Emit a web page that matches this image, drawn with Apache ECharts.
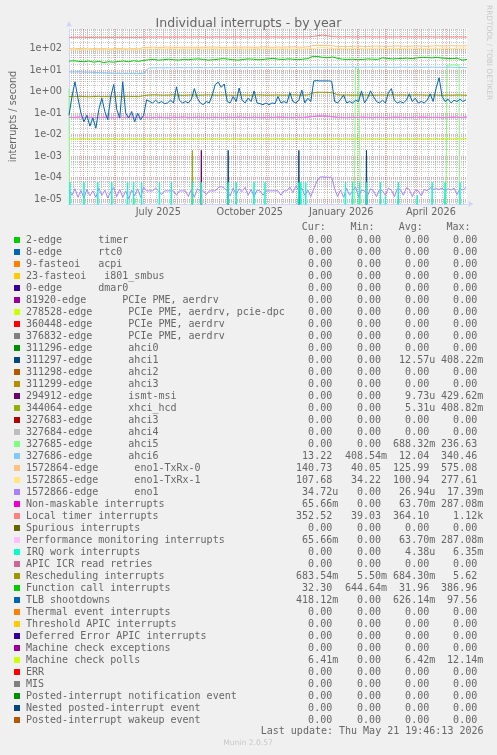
<!DOCTYPE html>
<html>
<head>
<meta charset="utf-8">
<script src="https://cdn.jsdelivr.net/npm/echarts@6/dist/echarts.min.js"></script>
<style>
html,body{margin:0;padding:0;background:#F0F0F0;}
#chart{width:497px;height:755px;}
</style>
</head>
<body>
<div id="chart"></div>
<script>
// ---------------- time base ----------------
const startTime = Date.UTC(2025, 3, 16, 19, 46, 13);   // 400 days before last update
const endTime   = Date.UTC(2026, 4, 21, 19, 46, 13);
const DAY = 86400000;
const smoothStepDays = 5;   // sample spacing of the smooth series (81 samples)
const noisyStepDays = 3;    // sample spacing of the noisy series (134 samples)

// ---------------- axis ticks ----------------
const yTickValues = [1e-5, 1e-4, 1e-3, 1e-2, 1e-1, 1, 10, 100];
const yTickLabels = ['1e-05', '1e-04', '1e-03', '1e-02', '1e-01', '1e+00', '1e+01', '1e+02'];
const yMin = 5.85e-6, yMax = 842;
const xTickLabelDates = [Date.UTC(2025, 6, 15, 12), Date.UTC(2025, 9, 15, 12), Date.UTC(2026, 0, 15, 12), Date.UTC(2026, 3, 15, 12)];
const xTickLabels = ['July 2025', 'October 2025', 'January 2026', 'April 2026'];

// ---------------- smooth series (every 5 days) ----------------
const localTimer = [345,342,348,345,340,344,346,343,345,341,347,344,342,345,343,350,
  355,352,358,354,350,356,353,357,352,355,360,354,351,356,358,
  355,352,357,360,356,353,358,362,357,355,360,358,354,359,362,358,360,365,
  380,410,440,405,375,
  362,358,365,360,356,362,368,360,357,363,359,355,361,366,360,357,362,358,364,360,356,361,358,355,360,357,352];
const enoTxRx0 = [102,100,104,101,99,103,100,102,98,101,104,100,99,102,100,116,
  118,120,117,119,122,118,116,120,119,117,121,118,120,123,119,117,120,118,122,119,121,118,120,124,121,118,122,120,123,125,121,119,124,
  140,145,142,144,138,
  128,130,127,132,135,130,128,133,136,131,129,134,137,132,130,135,138,133,131,136,139,134,137,140,136,138,141];
const enoTxRx1 = [90,92,89,91,93,90,88,92,91,89,93,90,92,89,91,98,
  100,98,101,99,102,100,97,101,99,100,103,98,100,102,99,101,100,98,102,100,99,101,103,100,98,101,99,102,100,97,101,99,102,
  104,110,115,108,103,
  103,105,102,104,106,103,101,105,107,104,102,106,104,103,105,108,104,102,106,105,103,107,105,104,106,108,108];
const functionCall = [27,28,26,25,27,24,26,23,25,24,26,27,25,28,26,29,
  31,32,30,31,33,31,30,32,31,33,34,32,30,31,33,35,33,31,30,32,34,33,31,32,34,36,33,32,34,33,31,33,35,
  45,44,40,38,42,
  36,33,32,33,31,32,34,33,32,38,36,34,35,36,37,35,38,40,39,38,40,37,36,35,37,30,32];
const ahci6 = [8.5,8.4,8.6,8.3,8.2,8.0,7.8,7.6,7.5,7.3,7.2,7.1,7.0,7.1,7.0,7.2,
  12.8,13.0,13.1,12.9,13.2,13.0,13.3,13.1,13.2,13.0,13.4,13.2,13.1,13.3,13.5,13.2,13.4,13.3,13.6,13.4,13.5,13.3,13.6,13.5,13.4,13.7,13.5,13.6,13.8,13.5,13.7,13.6,13.8,
  13.9,14.0,13.8,14.1,13.9,
  13.8,14.0,13.9,14.1,14.0,13.8,14.2,14.0,13.9,14.1,14.0,13.8,14.0,14.2,13.9,14.1,14.0,13.8,14.1,13.9,14.0,13.8,13.9,14.0,13.6,13.4,13.2];
const rescheduling = [0.60,0.59,0.61,0.60,0.58,0.60,0.61,0.59,0.60,0.58,0.60,0.59,0.61,0.60,0.59,0.66,
  0.70,0.72,0.71,0.69,0.70,0.72,0.70,0.68,0.70,0.71,0.69,0.70,0.72,0.70,0.69,0.71,0.70,0.68,0.70,0.71,0.69,0.70,0.72,0.70,0.69,0.70,0.71,0.69,0.70,0.72,0.70,0.69,0.71,
  0.88,0.95,0.94,0.93,0.90,
  0.72,0.70,0.71,0.69,0.70,0.72,0.70,0.68,0.70,0.71,0.69,0.72,0.70,0.71,0.69,0.70,0.72,0.70,0.69,0.71,0.70,0.68,0.70,0.69,0.71,0.70,0.68];
const nonMaskable = [0.064,0.063,0.065,0.062,0.064,0.063,0.062,0.064,0.063,0.062,0.064,0.063,0.065,0.062,0.063,0.064,
  0.063,0.062,0.064,0.063,0.062,0.064,0.063,0.065,0.062,0.063,0.064,0.063,0.062,0.064,0.063,0.062,0.064,0.063,0.065,0.063,0.062,0.064,0.063,0.062,0.064,0.063,0.065,0.064,0.063,0.062,0.064,0.063,0.066,
  0.070,0.074,0.073,0.072,0.068,
  0.064,0.063,0.062,0.064,0.063,0.065,0.063,0.062,0.064,0.063,0.062,0.064,0.065,0.063,0.062,0.064,0.063,0.065,0.064,0.063,0.064,0.062,0.063,0.065,0.064,0.063,0.066];
const perfMonitoring = nonMaskable.slice();   // identical figures in the legend
const machineCheckPolls = [
  0.00642,0.00642,0.00641,0.00642,0.00643,0.00642,0.00642,0.00641,0.00642,0.00642,
  0.00643,0.00642,0.00642,0.00641,0.00642,0.00642,0.00643,0.00642,0.00641,0.00642,
  0.00642,0.00642,0.00641,0.00642,0.00643,0.00642,0.00642,0.00641,0.00642,0.00642,
  0.00643,0.00642,0.00642,0.00641,0.00642,0.00642,0.00643,0.00642,0.00641,0.00642,
  0.00642,0.00642,0.00641,0.00642,0.00643,0.00642,0.00642,0.00641,0.00642,0.00642,
  0.00643,0.00642,0.00642,0.00641,0.00642,0.00642,0.00643,0.00642,0.00641,0.00642,
  0.00642,0.00642,0.00641,0.00642,0.00643,0.00642,0.00642,0.00641,0.00642,0.00642,
  0.00643,0.00642,0.00642,0.00641,0.00642,0.00642,0.00643,0.00642,0.00641,0.00642,
  0.00641];

// ---------------- noisy series (every 3 days) ----------------
const tlbShootdowns = [0.08,0.6,2.9,0.5,0.1,0.04,0.08,0.025,0.06,0.02,
  0.15,0.5,0.12,0.05,0.6,2.2,0.15,0.06,2.9,0.1,
  0.06,0.12,0.04,0.1,0.05,0.08,0.42,0.35,0.3,0.4,
  0.3,0.35,0.28,0.3,0.4,0.3,1.7,0.4,0.3,0.35,
  0.3,0.45,1.4,0.5,0.3,0.25,0.35,0.3,0.7,2.2,
  2.8,1.6,2.3,0.35,0.3,0.6,0.35,1.5,0.4,0.3,
  0.5,0.35,1.1,0.3,0.28,0.25,0.3,0.25,0.3,0.28,
  0.6,0.3,0.35,0.3,0.9,0.35,0.3,0.4,1.2,0.3,
  0.5,0.35,3.2,3.3,3.2,3.2,3.2,3.2,3.1,0.35,
  0.3,0.45,0.7,0.3,0.35,0.3,0.4,0.35,1.1,0.3,
  0.5,1.1,0.6,0.35,0.3,0.4,0.3,0.9,1.4,0.4,
  0.3,0.35,0.3,0.4,0.8,0.35,0.5,0.3,0.35,0.3,
  0.4,0.8,0.35,1.5,4.5,0.6,0.35,0.45,0.3,0.4,
  0.35,0.45,0.35,0.42];
const eno1 = [2.6e-5,1.5e-5,3.0e-5,1.2e-5,2.5e-5,1.1e-5,2.8e-5,1.4e-5,2.4e-5,1.2e-5,
  3.2e-5,1.5e-5,2.6e-5,1.1e-5,2.2e-5,3.4e-5,1.3e-5,2.8e-5,1.2e-5,2.4e-5,
  1.0e-5,2.6e-5,1.4e-5,3.0e-5,1.2e-5,3.6e-5,2.4e-5,2.4e-5,2.4e-5,3.2e-5,
  2.4e-5,1.6e-5,2.4e-5,2.4e-5,2.4e-5,2.4e-5,1.5e-5,2.4e-5,2.4e-5,2.4e-5,
  1.3e-5,2.8e-5,1.2e-5,3.0e-5,2.4e-5,2.4e-5,1.6e-5,2.4e-5,2.4e-5,2.4e-5,
  3.4e-5,3.8e-5,3.2e-5,2.4e-5,1.4e-5,3.2e-5,1.6e-5,3.0e-5,2.2e-5,3.5e-5,
  1.5e-5,2.8e-5,1.3e-5,2.6e-5,2.4e-5,1.5e-5,2.4e-5,2.4e-5,2.4e-5,2.4e-5,
  2.4e-5,1.5e-5,2.4e-5,2.4e-5,3.6e-5,2.0e-5,4.0e-5,2.5e-5,3.2e-5,1.5e-5,
  2.6e-5,1.3e-5,3.0e-5,6.5e-5,1.05e-4,1.07e-4,1.05e-4,1.03e-4,1.03e-4,3.0e-5,
  1.3e-5,2.6e-5,1.2e-5,3.2e-5,1.5e-5,2.4e-5,3.6e-5,1.3e-5,2.6e-5,2.4e-5,
  1.4e-5,3.0e-5,2.4e-5,1.3e-5,2.8e-5,2.4e-5,1.5e-5,3.2e-5,2.6e-5,1.3e-5,
  3.0e-5,2.8e-5,1.5e-5,3.3e-5,2.8e-5,1.3e-5,2.6e-5,2.4e-5,1.4e-5,2.8e-5,
  2.4e-5,3.4e-5,2.8e-5,3.0e-5,2.8e-5,3.2e-5,2.4e-5,3.0e-5,2.6e-5,3.2e-5,
  1.6e-5,3.0e-5,2.6e-5,3.5e-5];

// ---------------- sparse daily series: [day, value], 0 on every other day ----------------
const irqWork = [[1,6e-5],[15,6e-5],[29,6e-5],[43,6e-5],[59,6e-5],[65,6e-5],[73,6e-5],[91,6e-5],[103,6e-5],
  [124,6e-5],[133,6e-5],[160,6e-5],[168,6e-5],[186,6e-5],[197,6e-5],[231,6e-5],[233,6e-5],[238,6e-5],
  [278,6e-5],[285,6e-5],[292,6e-5],[299,6e-5],[313,6e-5],[318,1.3e-5],[331,6e-5],[350,1.5e-5],
  [365,6e-5],[378,6e-5],[393,6e-5]];
const ahci5 = [[0,1.4],[15,1.2e-5],[43,1.2e-5],[66,1.1e-5],
  [288,13.6],[289,13.6],[290,13.7],[291,13.6],[292,13.6],[293,13.5],
  [380,17.2],[381,17.4],[382,17.5],[383,17.5],[384,17.6],[385,17.5],[386,17.5],[387,17.4],[388,17.5],
  [389,17.6],[390,17.5],[391,17.4],[392,17.3]];
const xhciHcd = [[124,1.85e-3]];
const ismtMsi = [[133,1.85e-3]];
const ahci1 = [[160,1.85e-3],[231,1.85e-3],[299,1.85e-3]];

// ---------------- legend ----------------
const legendNames = [
  '2-edge      timer','8-edge      rtc0','9-fasteoi   acpi','23-fasteoi   i801_smbus','0-edge      dmar0',
  '81920-edge      PCIe PME, aerdrv','278528-edge      PCIe PME, aerdrv, pcie-dpc','360448-edge      PCIe PME, aerdrv',
  '376832-edge      PCIe PME, aerdrv','311296-edge      ahci0','311297-edge      ahci1','311298-edge      ahci2',
  '311299-edge      ahci3','294912-edge      ismt-msi','344064-edge      xhci_hcd','327683-edge      ahci3',
  '327684-edge      ahci4','327685-edge      ahci5','327686-edge      ahci6','1572864-edge      eno1-TxRx-0',
  '1572865-edge      eno1-TxRx-1','1572866-edge      eno1','Non-maskable interrupts','Local timer interrupts',
  'Spurious interrupts','Performance monitoring interrupts','IRQ work interrupts','APIC ICR read retries',
  'Rescheduling interrupts','Function call interrupts','TLB shootdowns','Thermal event interrupts',
  'Threshold APIC interrupts','Deferred Error APIC interrupts','Machine check exceptions','Machine check polls',
  'ERR','MIS','Posted-interrupt notification event','Nested posted-interrupt event','Posted-interrupt wakeup event'];
const legendColors = ['#00CC00','#0066B3','#FF8000','#FFCC00','#330099','#990099','#CCFF00','#FF0000','#808080',
  '#008F00','#00487D','#B35A00','#B38F00','#6B006B','#8FB300','#B30000','#BEBEBE','#80FF80','#80C9FF','#FFC080',
  '#FFE680','#AA80FF','#EE00CC','#FF8080','#666600','#FFBFFF','#00FFCC','#CC6699','#999900','#00CC00','#0066B3',
  '#FF8000','#FFCC00','#330099','#990099','#CCFF00','#FF0000','#808080','#008F00','#00487D','#B35A00'];
const legendCur = ['0.00','0.00','0.00','0.00','0.00','0.00','0.00','0.00','0.00','0.00',
  '0.00','0.00','0.00','0.00','0.00','0.00','0.00','0.00','13.22','140.73',
  '107.68','34.72u','65.66m','352.52','0.00','65.66m','0.00','0.00','683.54m','32.30',
  '418.12m','0.00','0.00','0.00','0.00','6.41m','0.00','0.00','0.00','0.00','0.00'];
const legendMin = ['0.00','0.00','0.00','0.00','0.00','0.00','0.00','0.00','0.00','0.00',
  '0.00','0.00','0.00','0.00','0.00','0.00','0.00','0.00','408.54m','40.05',
  '34.22','0.00','0.00','39.03','0.00','0.00','0.00','0.00','5.50m','644.64m',
  '0.00','0.00','0.00','0.00','0.00','0.00','0.00','0.00','0.00','0.00','0.00'];
const legendAvg = ['0.00','0.00','0.00','0.00','0.00','0.00','0.00','0.00','0.00','0.00',
  '12.57u','0.00','0.00','9.73u','5.31u','0.00','0.00','688.32m','12.04','125.99',
  '100.94','26.94u','63.70m','364.10','0.00','63.70m','4.38u','0.00','684.30m','31.96',
  '626.14m','0.00','0.00','0.00','0.00','6.42m','0.00','0.00','0.00','0.00','0.00'];
const legendMax = ['0.00','0.00','0.00','0.00','0.00','0.00','0.00','0.00','0.00','0.00',
  '408.22m','0.00','0.00','429.62m','408.82m','0.00','0.00','236.63','340.46','575.08',
  '277.61','17.39m','287.08m','1.12k','0.00','287.08m','6.35m','0.00','5.62','386.96',
  '97.56','0.00','0.00','0.00','0.00','12.14m','0.00','0.00','0.00','0.00','0.00'];
const legendHeaders = ['Cur:', 'Min:', 'Avg:', 'Max:'];
const titleText = 'Individual interrupts - by year';
const yAxisTitle = 'interrupts / second';
const lastUpdate = 'Last update: Thu May 21 19:46:13 2026';
const footerText = 'Munin 2.0.57';
const watermark = 'RRDTOOL / TOBI OETIKER';

// ---------------- build ----------------
const LOG_FLOOR = 1e-9; // a log axis cannot show 0: zero days are drawn below the axis floor
const TEXT = '#666666';
const SANS = 'DejaVu Sans';
const MONO = 'DejaVu Sans Mono';

function stepSeries(values, step) {
  return values.map((v, i) => [startTime + i * step * DAY, v > 0 ? v : LOG_FLOOR]);
}
function sparseSeries(pairs) {
  const daily = new Array(401).fill(0);
  pairs.forEach(([d, v]) => { daily[d] = v; });
  return daily.map((v, d) => [startTime + d * DAY, v > 0 ? v : LOG_FLOOR]);
}

// grid line positions
const monthStarts = [];
for (let i = 0; i < 13; i++) monthStarts.push(Date.UTC(2025, 4 + i, 1));
const weekStarts = [];
for (let t = Date.UTC(2025, 3, 21); t < endTime; t += 7 * DAY) weekStarts.push(t);
const yMinor = [];
for (let e = -6; e <= 2; e++) for (let m = 2; m <= 9; m++) {
  const v = m * Math.pow(10, e);
  if (v > yMin && v < yMax) yMinor.push(v);
}

const lineDefs = [
  { row: 10, data: sparseSeries(ahci1) },
  { row: 13, data: sparseSeries(ismtMsi) },
  { row: 14, data: sparseSeries(xhciHcd) },
  { row: 17, data: sparseSeries(ahci5) },
  { row: 18, data: stepSeries(ahci6, smoothStepDays) },
  { row: 19, data: stepSeries(enoTxRx0, smoothStepDays) },
  { row: 20, data: stepSeries(enoTxRx1, smoothStepDays) },
  { row: 21, data: stepSeries(eno1, noisyStepDays) },
  { row: 22, data: stepSeries(nonMaskable, smoothStepDays) },
  { row: 23, data: stepSeries(localTimer, smoothStepDays) },
  { row: 25, data: stepSeries(perfMonitoring, smoothStepDays), opacity: 0.6 },
  { row: 26, data: sparseSeries(irqWork) },
  { row: 28, data: stepSeries(rescheduling, smoothStepDays) },
  { row: 29, data: stepSeries(functionCall, smoothStepDays) },
  { row: 30, data: stepSeries(tlbShootdowns, noisyStepDays) },
  { row: 35, data: stepSeries(machineCheckPolls, smoothStepDays) }
];

const series = lineDefs.map(d => ({
  type: 'line',
  name: legendNames[d.row],
  data: d.data,
  showSymbol: false,
  symbol: 'none',
  clip: true,
  silent: true,
  lineStyle: { color: legendColors[d.row], width: 1, opacity: d.opacity || 1 },
  itemStyle: { color: legendColors[d.row] }
}));

// legend as text
const graphics = [];
const rowY0 = 240, rowH = 12;
const colRight = [332.2, 381, 429.2, 477.2];
const headerX = [301.7, 350.5, 398.7, 446.5];
legendHeaders.forEach((h, i) => graphics.push({
  type: 'text', x: headerX[i], y: 227.5, silent: true,
  style: { text: h, fontFamily: MONO, fontSize: 10, fill: TEXT, align: 'left', verticalAlign: 'middle' }
}));
legendNames.forEach((name, i) => {
  const y = rowY0 + i * rowH;
  graphics.push({ type: 'rect', silent: true, shape: { x: 14, y: y - 3, width: 6, height: 6 }, style: { fill: legendColors[i] } });
  graphics.push({ type: 'text', x: 26, y: y, silent: true,
    style: { text: name, fontFamily: MONO, fontSize: 10, fill: TEXT, align: 'left', verticalAlign: 'middle' } });
  [legendCur, legendMin, legendAvg, legendMax].forEach((arr, c) => {
    const m = arr[i].match(/^([\d.]+)([a-zA-Z]?)$/);
    graphics.push({ type: 'text', x: colRight[c], y: y, silent: true,
      style: { text: m[1], fontFamily: MONO, fontSize: 10, fill: TEXT, align: 'right', verticalAlign: 'middle' } });
    if (m[2]) graphics.push({ type: 'text', x: colRight[c], y: y, silent: true,
      style: { text: m[2], fontFamily: MONO, fontSize: 10, fill: TEXT, align: 'left', verticalAlign: 'middle' } });
  });
});
graphics.push({ type: 'text', x: 483.5, y: 731.7, silent: true,
  style: { text: lastUpdate, fontFamily: MONO, fontSize: 10, fill: TEXT, align: 'right', verticalAlign: 'middle' } });
graphics.push({ type: 'text', x: 248, y: 743.5, silent: true,
  style: { text: footerText, fontFamily: SANS, fontSize: 7.6, fill: '#C8C8C8', align: 'center', verticalAlign: 'middle' } });
graphics.push({ type: 'text', x: 489, y: 5, rotation: -Math.PI / 2, silent: true,
  style: { text: watermark, fontFamily: SANS, fontSize: 7.4, fill: '#C8C8C8', align: 'left', verticalAlign: 'middle' } });

const majorGrid = { color: 'rgba(222,79,79,0.5)', width: 1, type: [1, 1] };
const minorGrid = { color: 'rgba(143,143,143,0.5)', width: 1, type: [1, 1] };
const axisColor = '#CFD6F8';

function xLabelFor(v) {
  let best = 0;
  xTickLabelDates.forEach((t, i) => { if (Math.abs(t - v) < Math.abs(xTickLabelDates[best] - v)) best = i; });
  return xTickLabels[best];
}

const option = {
  animation: false,
  backgroundColor: '#F0F0F0',
  title: {
    text: titleText, left: 'center', top: 12,
    textStyle: { fontFamily: SANS, fontSize: 12.5, fontWeight: 'normal', color: TEXT }
  },
  grid: { left: 67, right: 30, top: 29, bottom: 551, show: true, backgroundColor: '#FFFFFF', borderWidth: 0, containLabel: false },
  xAxis: [
    {
      type: 'value', min: startTime, max: endTime, position: 'bottom',
      axisLine: { show: true, onZero: false, lineStyle: { color: axisColor, width: 1 },
        symbol: ['none', 'triangle'], symbolSize: [6, 5], symbolOffset: [0, 4] },
      axisTick: { show: false, customValues: monthStarts },
      splitLine: { show: true, lineStyle: majorGrid },
      axisLabel: {
        customValues: xTickLabelDates, margin: 3, color: TEXT, fontFamily: SANS, fontSize: 9.7,
        formatter: v => xLabelFor(v)
      }
    },
    {
      type: 'value', min: startTime, max: endTime, position: 'bottom',
      axisLine: { show: false }, axisLabel: { show: false },
      axisTick: { show: false, customValues: weekStarts },
      splitLine: { show: true, lineStyle: minorGrid }
    }
  ],
  yAxis: [
    {
      type: 'log', logBase: 10, min: yMin, max: yMax, position: 'left',
      name: yAxisTitle, nameLocation: 'middle', nameRotate: 90, nameGap: 51,
      nameTextStyle: { fontFamily: SANS, fontSize: 9.7, color: TEXT },
      axisLine: { show: true, lineStyle: { color: axisColor, width: 1 },
        symbol: ['none', 'triangle'], symbolSize: [6, 5], symbolOffset: [0, 5] },
      axisTick: { show: false, customValues: yTickValues },
      splitLine: { show: true, lineStyle: majorGrid },
      axisLabel: {
        customValues: yTickValues, margin: 7, color: TEXT, fontFamily: SANS, fontSize: 9.7,
        formatter: v => {
          const i = yTickValues.findIndex(t => Math.abs(Math.log10(t) - Math.log10(v)) < 1e-6);
          return i >= 0 ? yTickLabels[i] : '';
        }
      }
    },
    {
      type: 'log', logBase: 10, min: yMin, max: yMax, position: 'left',
      axisLine: { show: false }, axisLabel: { show: false },
      axisTick: { show: false, customValues: yMinor },
      splitLine: { show: true, lineStyle: minorGrid }
    }
  ],
  series: series,
  graphic: graphics
};

const chart = echarts.init(document.getElementById('chart'), null, { renderer: 'canvas' });
chart.setOption(option);
</script>
</body>
</html>
